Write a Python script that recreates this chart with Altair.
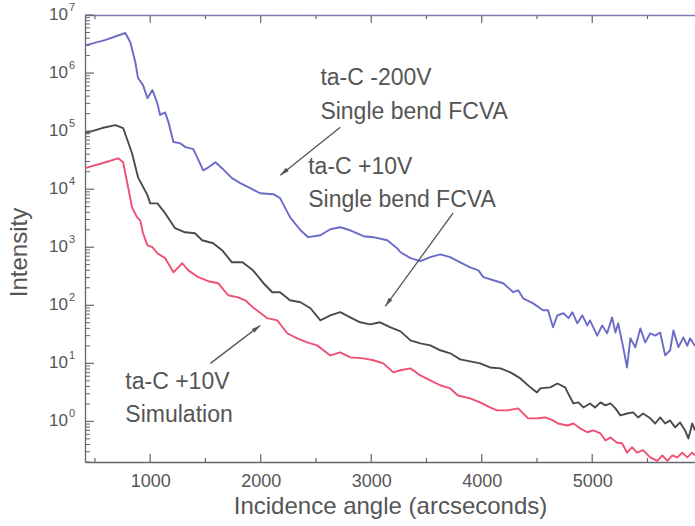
import altair as alt
import pandas as pd

# ---------------- data ----------------
blue_x = [410, 590, 775, 820, 865, 890, 935, 975, 1020, 1065, 1090, 1135, 1165, 1210, 1270, 1320, 1390, 1480, 1515, 1590,
          1650, 1740, 1815, 1905, 1995, 2115, 2175, 2265, 2360, 2430, 2540, 2630, 2720, 2810, 2930, 3020, 3145, 3235, 3265, 3355,
          3445, 3535, 3625, 3715, 3805, 3895, 3970, 4015, 4105, 4195, 4285, 4330, 4375, 4465, 4555, 4600, 4645, 4685, 4740, 4785,
          4820, 4865, 4910, 4955, 4980, 5045, 5090, 5135, 5180, 5210, 5235, 5280, 5315, 5345, 5390, 5435, 5480, 5525, 5570, 5615,
          5660, 5705, 5735, 5780, 5825, 5860, 5885, 5930]
blue_y = [3.0e6, 3.7e6, 4.9e6, 3.4e6, 1.55e6, 8.2e5, 6.2e5, 3.7e5, 5.1e5, 3.0e5, 1.9e5, 2.1e5, 1.43e5, 6.5e4, 6.2e4, 5.3e4, 4.9e4, 2.1e4, 2.3e4, 2.9e4,
          2.3e4, 1.55e4, 1.27e4, 1.04e4, 8500, 8200, 7000, 3300, 1960, 1490, 1610, 2040, 2210, 1960, 1550, 1490, 1320, 960, 820, 650,
          575, 675, 755, 675, 550, 450, 400, 305, 270, 240, 168, 181, 132, 108, 82, 82, 42, 67, 73, 60,
          76, 49, 67, 45, 55, 30, 45, 33, 62, 34, 49, 19, 8.5, 27, 19, 40, 23, 33, 30, 34,
          13.7, 16.8, 37, 19, 28, 20, 27, 20]

black_x = [410, 565, 685, 755, 835, 890, 975, 1000, 1065, 1135, 1225, 1315, 1405, 1470, 1570, 1650, 1740, 1835, 1930, 2025,
           2105, 2175, 2265, 2360, 2450, 2540, 2630, 2720, 2810, 2900, 2990, 3080, 3170, 3265, 3355, 3445, 3535, 3625, 3715, 3805,
           3895, 3985, 4075, 4170, 4260, 4350, 4440, 4500, 4530, 4620, 4685, 4755, 4800, 4830, 4875, 4920, 4980, 5025, 5075, 5120,
           5165, 5210, 5255, 5315, 5370, 5415, 5460, 5525, 5570, 5615, 5660, 5705, 5750, 5795, 5840, 5870, 5905, 5930]
black_y = [9.2e4, 1.13e5, 1.27e5, 1.13e5, 4.2e4, 1.6e4, 7900, 5700, 5700, 3860, 2130, 1810, 1740, 1320, 1170, 890, 550, 550, 400, 240,
           168, 168, 122, 113, 89, 55, 67, 76, 62, 51, 47, 51, 42, 35.6, 24.9, 22.1, 20.4, 16.8, 14.9, 11.7,
           10.8, 10, 8.5, 8.2, 7.0, 5.5, 3.86, 3.16, 3.7, 3.86, 4.5, 3.86, 2.6, 2.04, 2.13, 1.74, 2.04, 1.74, 2.13, 1.89,
           2.04, 1.68, 1.27, 1.37, 1.43, 1.17, 1.37, 1.13, 0.92, 1.17, 0.92, 1.04, 0.79, 0.96, 0.70, 0.51, 0.92, 0.70]

red_x = [410, 565, 710, 755, 800, 835, 880, 910, 935, 975, 1020, 1065, 1135, 1210, 1290, 1345, 1435, 1525, 1615, 1705,
         1795, 1860, 1930, 2060, 2150, 2240, 2330, 2420, 2510, 2630, 2720, 2810, 2930, 3020, 3110, 3200, 3265, 3355, 3445, 3535,
         3625, 3715, 3785, 3895, 3985, 4075, 4140, 4230, 4330, 4420, 4500, 4575, 4645, 4690, 4775, 4830, 4890, 4955, 5010, 5075,
         5120, 5165, 5225, 5270, 5315, 5360, 5405, 5460, 5525, 5590, 5635, 5680, 5725, 5770, 5815, 5860, 5905, 5930]
red_y = [2.3e4, 2.8e4, 3.4e4, 2.9e4, 1.08e4, 4900, 3300, 2900, 1740, 1080, 1000, 790, 650, 370, 530, 400, 305, 260, 240, 149,
         137, 122, 92, 60, 55, 33, 27, 23, 20.4, 13.7, 15.5, 12.7, 12.2, 11.3, 10, 7.0, 7.6, 8.2, 6.2, 5.1,
         4.2, 3.7, 2.8, 2.5, 2.13, 1.74, 1.55, 1.55, 1.68, 1.13, 1.13, 1.17, 1.04, 0.92, 0.85, 0.92, 0.76, 0.65, 0.70, 0.62,
         0.47, 0.53, 0.43, 0.42, 0.29, 0.36, 0.29, 0.32, 0.24, 0.21, 0.26, 0.21, 0.26, 0.24, 0.29, 0.24, 0.29, 0.26]

series_names = ["ta-C -200V single bend FCVA", "ta-C +10V single bend FCVA", "ta-C +10V simulation"]
series_colors = ["#6b6bc8", "#4a4a4a", "#ee4f72"]

x_major = [1000, 2000, 3000, 4000, 5000]
x_minor = [500, 1500, 2500, 3500, 4500, 5500]
y_major = [1, 10, 100, 1000, 1e4, 1e5, 1e6, 1e7]
y_exp = ["0", "1", "2", "3", "4", "5", "6", "7"]
y_minor = [m * 10.0 ** d for d in range(-1, 7) for m in range(2, 10) if m * 10.0 ** d >= 0.2]

# annotations (data units)
ann_text = ["ta-C -200V", "Single bend FCVA", "ta-C +10V", "Single bend FCVA", "ta-C +10V", "Simulation"]
ann_x = [2540, 2540, 2430, 2430, 775, 775]
ann_y = [8.2e5, 2.13e5, 2.4e4, 6.4e3, 4.7, 1.27]

arrow_x1 = [2720, 3740, 1545]
arrow_y1 = [1.17e5, 3860, 10]
arrow_x2 = [2177, 3127, 1996]
arrow_y2 = [1.74e4, 96, 45]
arrow_angle = [231, 216, 53]

# ---------------- tables ----------------
rows = []
for name, xs, ys in zip(series_names, [blue_x, black_x, red_x], [blue_y, black_y, red_y]):
    for i, (a, b) in enumerate(zip(xs, ys)):
        rows.append({"series": name, "x": a, "y": b, "i": i})
df = pd.DataFrame(rows)

ann_df = pd.DataFrame({"x": ann_x, "y": ann_y, "t": ann_text})
arr_df = pd.DataFrame({"x1": arrow_x1, "y1": arrow_y1, "x2": arrow_x2, "y2": arrow_y2, "ang": arrow_angle})
xmaj_df = pd.DataFrame({"v": x_major})
xmin_df = pd.DataFrame({"v": x_minor})
ymaj_df = pd.DataFrame({"v": y_major, "e": y_exp, "b": ["10"] * len(y_major)})
ymin_df = pd.DataFrame({"v": y_minor})

W, H = 610, 447
FONT = "Liberation Sans"
TXT = "#555555"
AX = "#666670"

xscale = alt.Scale(domain=[410, 5930], nice=False, zero=False)
yscale = alt.Scale(type="log", domain=[0.2, 1e7], nice=False)

lines = alt.Chart(df).mark_line(clip=True, strokeWidth=1.9, strokeJoin="round").encode(
    x=alt.X("x:Q", scale=xscale,
            axis=alt.Axis(values=x_major, format="d", title="Incidence angle (arcseconds)", ticks=False, tickSize=0,
                          grid=False, labelPadding=10, titlePadding=4, domainColor=AX, domainWidth=1.3)),
    y=alt.Y("y:Q", scale=yscale,
            axis=alt.Axis(labels=False, ticks=False, tickSize=0, grid=False, title="Intensity",
                          titleX=-66, titleY=237, titleBaseline="middle", titleAngle=270,
                          domainColor=AX, domainWidth=1.3)),
    color=alt.Color("series:N", scale=alt.Scale(domain=series_names, range=series_colors), legend=None),
    order="i:Q",
)

top_major = alt.Chart(xmaj_df).mark_rule(color=AX, strokeWidth=1.2).encode(
    x=alt.X("v:Q", scale=xscale,
            axis=alt.Axis(orient="top", labels=False, ticks=False, tickSize=0, title=None, grid=False,
                          domainColor="#7c7cb2", domainWidth=1.5)),
    y=alt.value(0), y2=alt.value(8))
top_minor = alt.Chart(xmin_df).mark_rule(color=AX, strokeWidth=1.2).encode(
    x=alt.X("v:Q", scale=xscale, axis=None), y=alt.value(0), y2=alt.value(4))
bot_major = alt.Chart(xmaj_df).mark_rule(color=AX, strokeWidth=1.2).encode(
    x=alt.X("v:Q", scale=xscale, axis=None), y=alt.value(H), y2=alt.value(H - 8))
bot_minor = alt.Chart(xmin_df).mark_rule(color=AX, strokeWidth=1.2).encode(
    x=alt.X("v:Q", scale=xscale, axis=None), y=alt.value(H), y2=alt.value(H - 4))
left_major = alt.Chart(ymaj_df).mark_rule(color=AX, strokeWidth=1.2).encode(
    y=alt.Y("v:Q", scale=yscale, axis=None), x=alt.value(0), x2=alt.value(9))
left_minor = alt.Chart(ymin_df).mark_rule(color=AX, strokeWidth=1.0).encode(
    y=alt.Y("v:Q", scale=yscale, axis=None), x=alt.value(0), x2=alt.value(5))

ylab_base = alt.Chart(ymaj_df).mark_text(align="right", baseline="middle", fontSize=17, font=FONT, color=TXT).encode(
    y=alt.Y("v:Q", scale=yscale, axis=None), x=alt.value(-17), text="b:N")
ylab_exp = alt.Chart(ymaj_df).mark_text(align="right", baseline="middle", fontSize=11, font=FONT, color=TXT, dy=-7).encode(
    y=alt.Y("v:Q", scale=yscale, axis=None), x=alt.value(-10), text="e:N")

arrows = alt.Chart(arr_df).mark_rule(color="#555555", strokeWidth=1.3).encode(
    x=alt.X("x1:Q", scale=xscale, axis=None), y=alt.Y("y1:Q", scale=yscale, axis=None),
    x2="x2:Q", y2="y2:Q")
heads = alt.Chart(arr_df).mark_point(shape="M0,0L0.5,2L-0.5,2Z", filled=True, size=81, opacity=1,
                                     color="#555555").encode(
    x=alt.X("x2:Q", scale=xscale, axis=None), y=alt.Y("y2:Q", scale=yscale, axis=None),
    angle=alt.Angle("ang:Q", scale=None))

labels = alt.Chart(ann_df).mark_text(align="left", baseline="middle", fontSize=23, font=FONT, color=TXT).encode(
    x=alt.X("x:Q", scale=xscale, axis=None), y=alt.Y("y:Q", scale=yscale, axis=None), text="t:N")

chart = alt.layer(
    lines, top_major, top_minor, bot_major, bot_minor, left_major, left_minor,
    ylab_base, ylab_exp, arrows, heads, labels
).resolve_axis(x="independent", y="independent").properties(
    width=W, height=H,
    padding={"left": 85, "top": 15, "right": 0, "bottom": 64},
    autosize=alt.AutoSizeParams(type="none"),
    background="white",
).configure_axis(
    labelFont=FONT, titleFont=FONT, labelColor=TXT, titleColor=TXT,
    labelFontSize=18, titleFontSize=24, titleFontWeight="normal",
).configure_view(stroke=None)

chart.save("out.html", embed_options={"renderer": "svg", "actions": False})
